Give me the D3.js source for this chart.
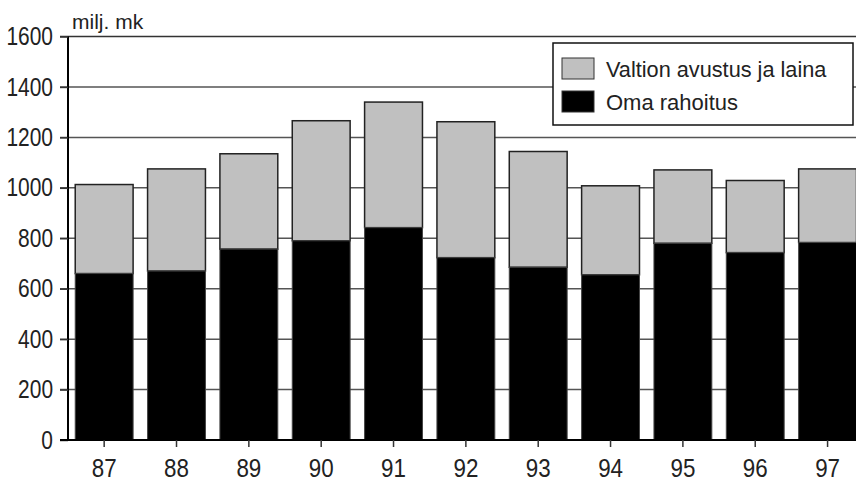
<!DOCTYPE html>
<html><head><meta charset="utf-8">
<script src="https://cdn.jsdelivr.net/npm/d3@7"></script>
<style>
body{margin:0;background:#fff;}
text{font-family:"Liberation Sans Narrow","Arial Narrow","Liberation Sans",Arial,sans-serif;fill:#222;}
</style></head><body>
<svg id="c" width="856" height="483"></svg>
<script>
const categories = ["87","88","89","90","91","92","93","94","95","96","97"];
const omaRahoitus = [660,670,757,790,842,723,685,655,780,743,783];
const valtionAvustus = [353,405,378,476,498,539,459,353,291,286,292];
const yTicks = [0,200,400,600,800,1000,1200,1400,1600];
const seriesNames = ["Valtion avustus ja laina","Oma rahoitus"];
const unitLabel = "milj. mk";

const svg = d3.select("#c");
const x0 = 68, yTop = 36.5, yBot = 440;
const x = d3.scaleBand().domain(categories).range([x0, x0 + 72.34*11]).paddingInner(0.2).paddingOuter(0.1);
const y = d3.scaleLinear().domain([0,1600]).range([yBot, yTop]);

function condense(sel, k){
  sel.each(function(){
    const w = this.getComputedTextLength();
    d3.select(this).attr("textLength", w*k).attr("lengthAdjust","spacingAndGlyphs");
  });
}

// gridlines
svg.append("g").selectAll("line").data(yTicks.filter(d=>d>0)).join("line")
  .attr("x1", 60).attr("x2", 856).attr("y1", d=>y(d)).attr("y2", d=>y(d))
  .attr("stroke", d=> d===1600 ? "#333" : "#555").attr("stroke-width", 1.5);

const data = categories.map((c,i)=>({c, oma: omaRahoitus[i], val: valtionAvustus[i]}));
const g = svg.append("g");
g.selectAll("rect.v").data(data).join("rect").attr("class","v")
  .attr("x", d=>x(d.c)).attr("width", x.bandwidth())
  .attr("y", d=>y(d.oma+d.val)).attr("height", d=>y(d.oma)-y(d.oma+d.val))
  .attr("fill","#c0c0c0").attr("stroke","#222").attr("stroke-width",1.5);
g.selectAll("rect.o").data(data).join("rect").attr("class","o")
  .attr("x", d=>x(d.c)).attr("width", x.bandwidth())
  .attr("y", d=>y(d.oma)).attr("height", d=>y(0)-y(d.oma))
  .attr("fill","#000").attr("stroke","#444").attr("stroke-width",1);

// y axis
const ya = svg.append("g").attr("transform",`translate(${x0},0)`)
  .call(d3.axisLeft(y).tickValues(yTicks).tickSize(8).tickPadding(7).tickFormat(d3.format("d")));
ya.select(".domain").attr("stroke","#000").attr("stroke-width",2).attr("d",`M0,${yTop}V${yBot}`);
ya.selectAll(".tick line").attr("stroke","#333").attr("stroke-width",1.5);
ya.selectAll("text").attr("font-size",25.5).attr("fill","#222").style("font-family",null).call(condense,0.82);

// x axis
const xa = svg.append("g").attr("transform",`translate(0,${yBot})`)
  .call(d3.axisBottom(x).tickSize(7).tickPadding(12));
xa.select(".domain").attr("d",`M60,0H856`).attr("stroke","#000").attr("stroke-width",2);
xa.selectAll(".tick line").attr("stroke","#333").attr("stroke-width",1.5);
xa.selectAll("text").attr("font-size",26).attr("fill","#222").style("font-family",null).call(condense,0.86);

svg.append("text").attr("x",72).attr("y",28.5).attr("font-size",21).text(unitLabel);

// legend
const lg = svg.append("g");
lg.append("rect").attr("x",553).attr("y",43).attr("width",300).attr("height",82)
  .attr("fill","#fff").attr("stroke","#111").attr("stroke-width",1.5);
const fills = ["#c0c0c0","#000"];
seriesNames.forEach((n,i)=>{
  lg.append("rect").attr("x",562).attr("y",58+i*33).attr("width",32).attr("height",21)
    .attr("fill",fills[i]).attr("stroke","#333").attr("stroke-width",1);
  lg.append("text").attr("x",606).attr("y",77+i*33).attr("font-size",22).text(n)
    .call(condense, i===0 ? 219/222 : 1);
});
</script></body></html>
